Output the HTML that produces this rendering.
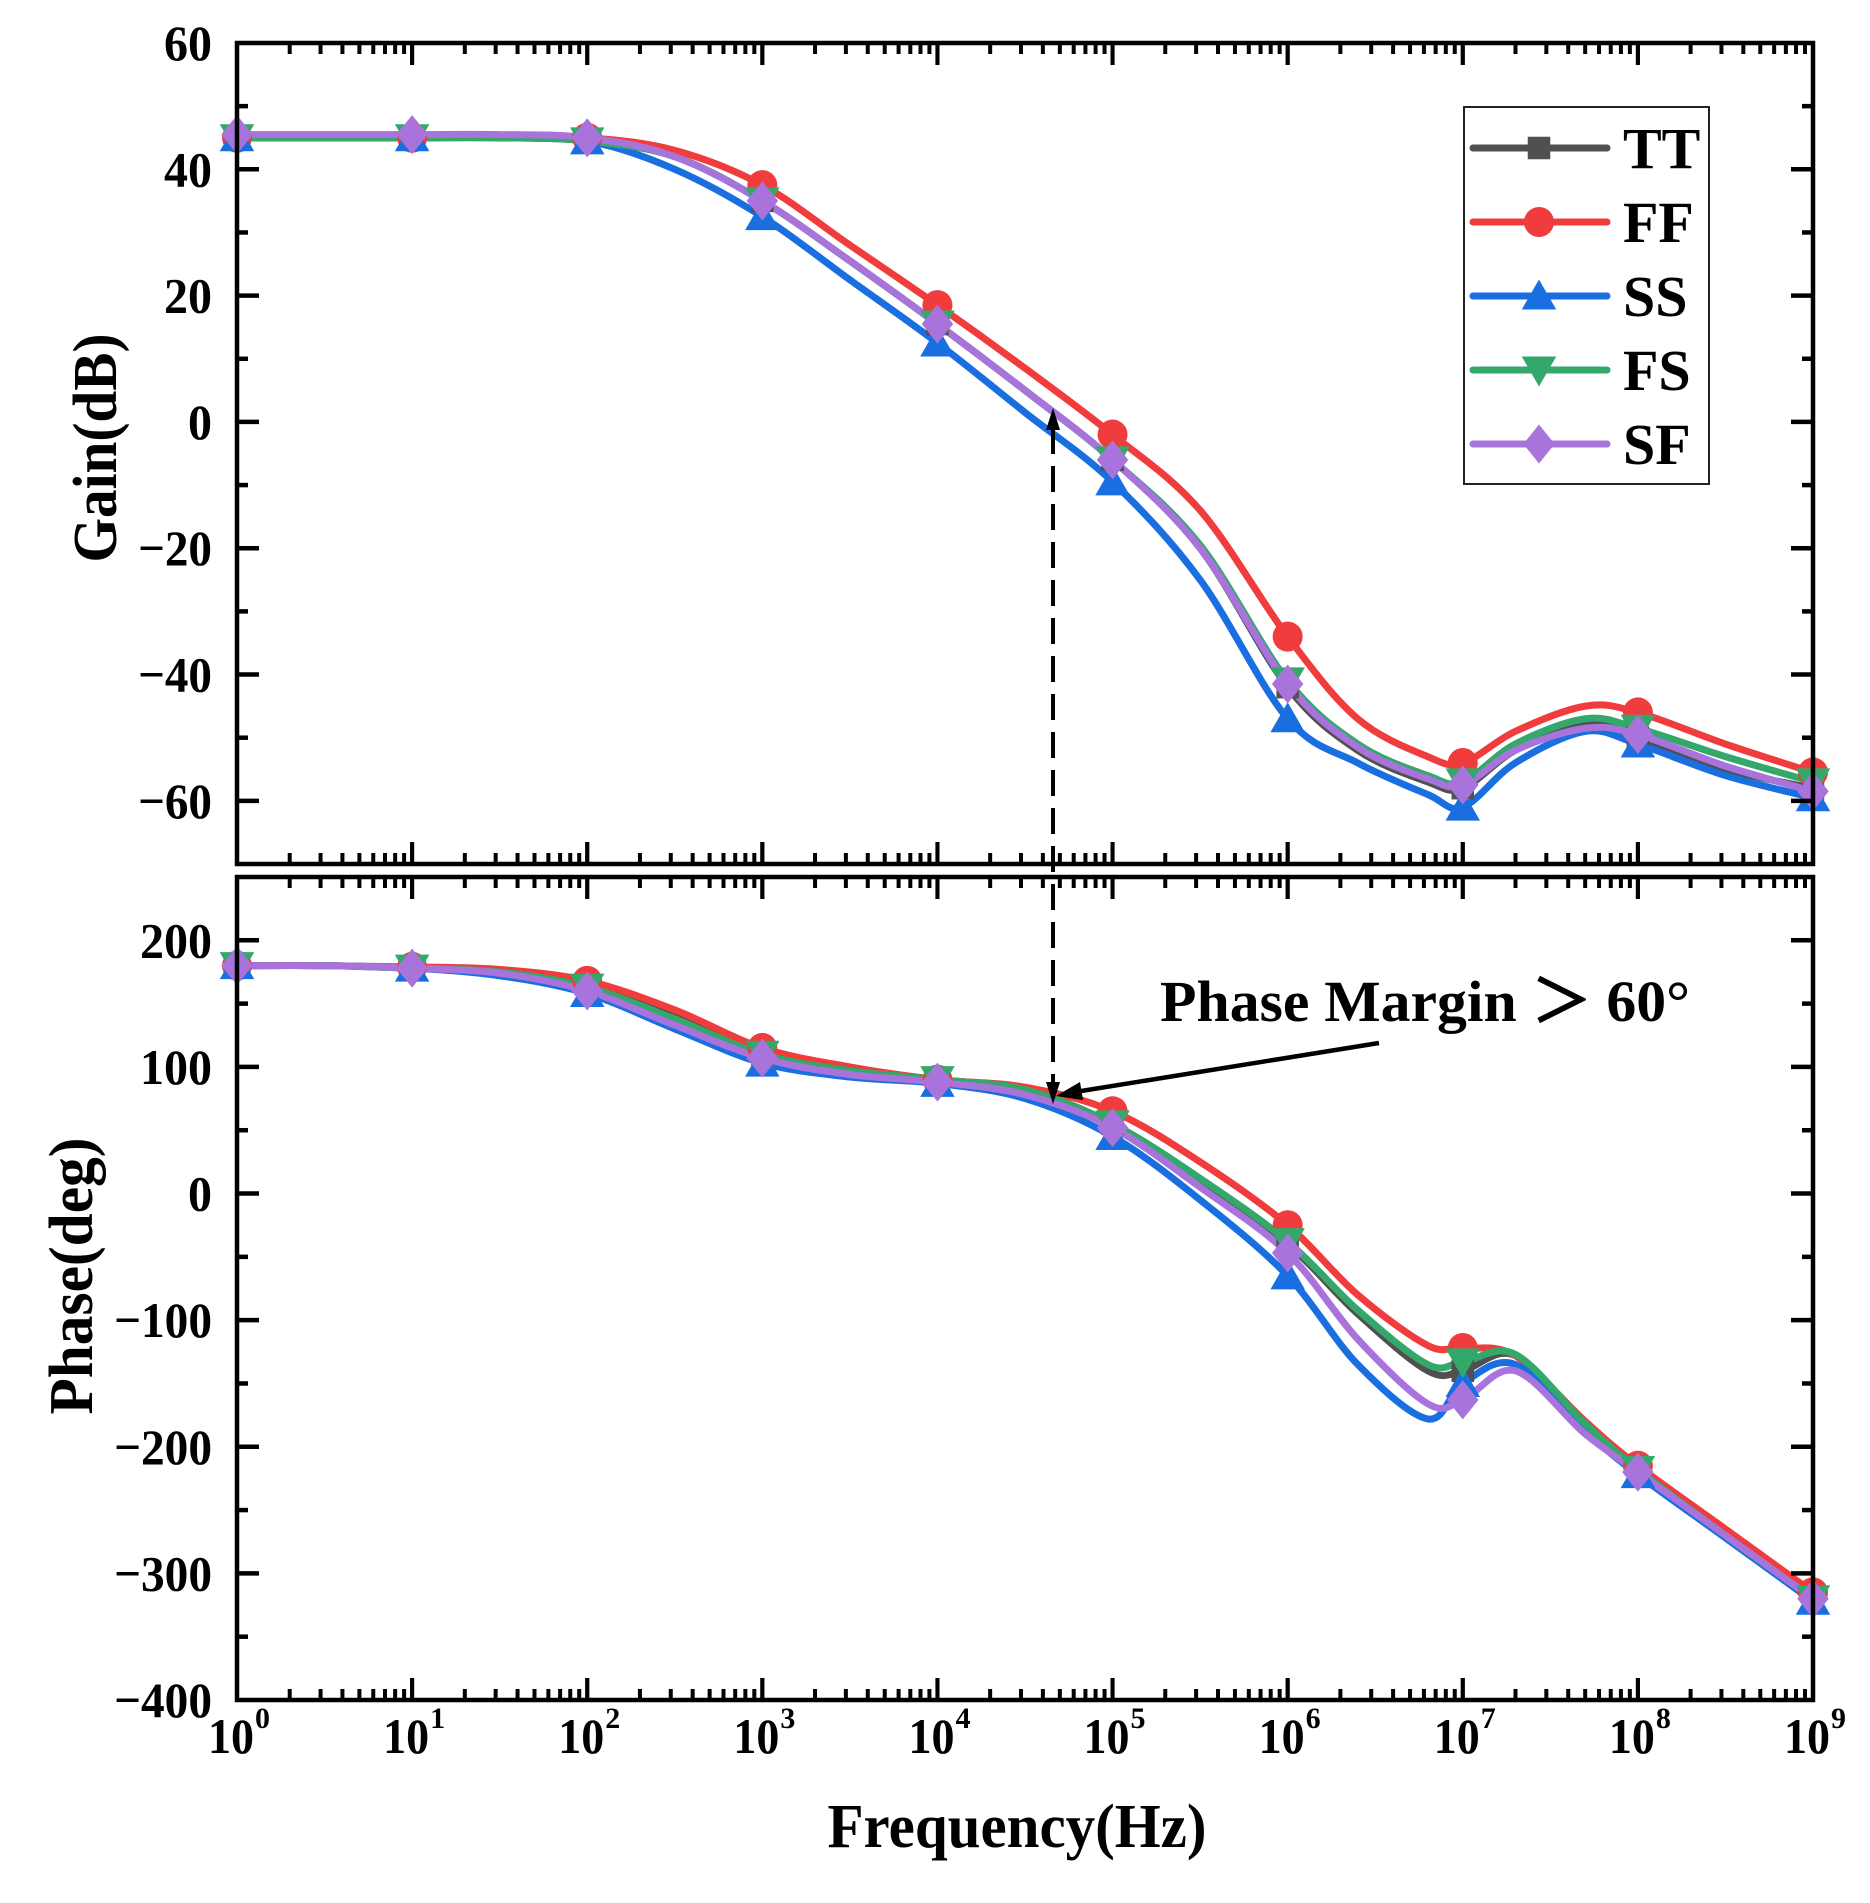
<!DOCTYPE html>
<html>
<head>
<meta charset="utf-8">
<style>
  html,body{margin:0;padding:0;background:#fff;}
  svg{display:block;}
  text{font-family:"Liberation Serif",serif;font-weight:bold;fill:#000;}
</style>
</head>
<body>
<svg id="chart" width="1870" height="1903" viewBox="0 0 1870 1903" xmlns="http://www.w3.org/2000/svg">
  <g id="gainPanel"></g>
  <g id="phasePanel"></g>
  <g id="annot"></g>
  <g id="legend"></g>
</svg>
<script>
// ---- data ----
const exps = [0,0.5,1,1.5,2,2.5,3,3.5,4,4.5,5,5.5,6,6.4,6.8,7,7.3,7.7,8,8.5,9];
const seriesNames = ["TT","FF","SS","FS","SF"];
const gainTT = [45,45,45,45,44.5,42,35,25.5,15.5,5,-6,-20,-42,-52,-57,-58,-52,-47.5,-50,-55,-58];
const gainFF = [45,45,45,45,45,43,37.5,28,18.5,8.5,-2,-14,-34,-47,-53,-54,-49,-45,-46,-51,-55.5];
const gainSS = [45,45,45,45,44.5,40,32.5,22.5,12.5,1.5,-9.5,-25,-47,-54,-59,-61,-54,-49,-51,-56,-59.5];
const gainFS = [45,45,45,45,44.5,42,35,25.5,15.5,5,-6,-19.5,-41,-51,-56,-57,-51,-47,-48.5,-53,-57];
const gainSF = [45.5,45.5,45.5,45.5,45,42,35,25.5,15.5,5,-6,-20,-41.5,-51.5,-56.5,-57.5,-52,-48.5,-49.5,-54.5,-58.5];
const phaseTT = [180,180,178,176,165,140,110,97,90,82,55,10,-40,-95,-140,-140,-128,-185,-218,-270,-320];
const phaseFF = [180,180,179,177,168,145,115,100,90,84,65,25,-25,-80,-120,-122,-128,-180,-215,-265,-315];
const phaseSS = [180,180,178,172,158,130,103,92,87,75,45,-5,-65,-135,-178,-150,-135,-188,-222,-272,-322];
const phaseFS = [180,180,178,175,163,138,110,97,90,82,55,12,-38,-92,-135,-133,-127,-182,-218,-270,-320];
const phaseSF = [180,180,178,174,160,133,107,94,88,78,52,5,-47,-115,-166,-163,-140,-190,-220,-270,-320];
const gainTicks = [60,40,20,0,-20,-40,-60];
const phaseTicks = [200,100,0,-100,-200,-300,-400];
const xDecades = [0,1,2,3,4,5,6,7,8,9];
const marginExp = [4.66];

const gainData = [gainTT,gainFF,gainSS,gainFS,gainSF];
const phaseData = [phaseTT,phaseFF,phaseSS,phaseFS,phaseSF];
const colors = ["#505050","#f03c3c","#1a6fe0","#33a86a","#a874dc"];
const markers = ["square","circle","up","down","diamond"];

const NS = "http://www.w3.org/2000/svg";
const L = 237, R = 1813;
const xS = e => L + (R - L) * e / 9;
const gP = {top:43,bot:864,min:-70,max:60};
const pP = {top:877,bot:1700,min:-400,max:250};
const yS = (p,v) => p.bot - (v - p.min) * (p.bot - p.top) / (p.max - p.min);

function el(tag, attrs, parent){
  const e = document.createElementNS(NS, tag);
  for (const k in attrs) e.setAttribute(k, attrs[k]);
  parent.appendChild(e);
  return e;
}
function pathFrom(pts){
  let d = "M" + pts[0][0] + "," + pts[0][1];
  for (let i=0;i<pts.length-1;i++){
    const p0 = pts[i-1]||pts[i], p1=pts[i], p2=pts[i+1], p3=pts[i+2]||pts[i+1];
    const t=6;
    const c1=[p1[0]+(p2[0]-p0[0])/t, p1[1]+(p2[1]-p0[1])/t];
    const c2=[p2[0]-(p3[0]-p1[0])/t, p2[1]-(p3[1]-p1[1])/t];
    d += " C"+c1[0]+","+c1[1]+" "+c2[0]+","+c2[1]+" "+p2[0]+","+p2[1];
  }
  return d;
}
function marker(g, type, x, y, color, s){
  let m;
  if (type==="square") m = el("rect",{x:x-s*0.75,y:y-s*0.75,width:s*1.5,height:s*1.5,fill:color},g);
  else if (type==="circle") m = el("circle",{cx:x,cy:y,r:s,fill:color},g);
  else if (type==="up") m = el("polygon",{points:`${x},${y-s*1.1} ${x-s*1.15},${y+s*0.9} ${x+s*1.15},${y+s*0.9}`,fill:color},g);
  else if (type==="down") m = el("polygon",{points:`${x},${y+s*1.1} ${x-s*1.15},${y-s*0.9} ${x+s*1.15},${y-s*0.9}`,fill:color},g);
  else m = el("polygon",{points:`${x},${y-s*1.3} ${x+s*1.05},${y} ${x},${y+s*1.3} ${x-s*1.05},${y}`,fill:color},g);
  return m;
}

function drawPanel(g, p, data, ticks, minorStep, name){
  data.forEach((arr, si) => {
    const pts = exps.map((e,i)=>[xS(e), yS(p,arr[i])]);
    const path = el("path",{d:pathFrom(pts),fill:"none",stroke:colors[si],"stroke-width":7,"stroke-linejoin":"round"},g);
    
    
  });
  data.forEach((arr, si) => {
    exps.forEach((e,i)=>{
      if (Number.isInteger(e)){
        const m = marker(g, markers[si], xS(e), yS(p,arr[i]), colors[si], 15);
        
        
      }
    });
  });
  const fr = el("rect",{x:L,y:p.top,width:R-L,height:p.bot-p.top,fill:"none",stroke:"#000","stroke-width":4.5},g);
  
  
  for (let v = p.min; v <= p.max; v += minorStep){
    const y = yS(p,v);
    if (y < p.top+2 || y > p.bot-2) continue;
    const major = ticks.includes(v);
    const len = major ? 22 : 11;
    el("line",{x1:L,x2:L+len,y1:y,y2:y,stroke:"#000","stroke-width":4.5},g);
    el("line",{x1:R,x2:R-len,y1:y,y2:y,stroke:"#000","stroke-width":4.5},g);
  }
  ticks.forEach(v=>{
    const s = v<0 ? "\u2212"+Math.abs(v) : String(v);
    const w = String(Math.abs(v)).length*24 + (v<0?26:0);
    const t = el("text",{x:212,y:yS(p,v)+17,"text-anchor":"end","font-size":50,textLength:w,lengthAdjust:"spacingAndGlyphs"},g);
    t.textContent = s;
    
    
  });
  for (let d=0; d<9; d++){
    for (let k=1;k<=10;k++){
      const x = xS(d + Math.log10(k));
      const major = (k===1||k===10);
      if (x<=L+1 || x>=R-1) continue;
      const len = major ? 22 : 11;
      el("line",{x1:x,x2:x,y1:p.bot,y2:p.bot-len,stroke:"#000","stroke-width":4},g);
      el("line",{x1:x,x2:x,y1:p.top,y2:p.top+len,stroke:"#000","stroke-width":4},g);
    }
  }
}

const gG = document.getElementById("gainPanel");
const pG = document.getElementById("phasePanel");
drawPanel(gG, gP, gainData, gainTicks, 10, "gain");
drawPanel(pG, pP, phaseData, phaseTicks, 50, "phase");

xDecades.forEach(d=>{
  const t = el("text",{x:xS(d)-6,y:1753,"text-anchor":"middle","font-size":50,textLength:46,lengthAdjust:"spacingAndGlyphs"},pG);
  t.textContent = "10";
  
  
  const s = el("text",{x:xS(d)+18,y:1728,"text-anchor":"start","font-size":30},pG);
  s.textContent = String(d);
  
  
});

const svg = document.getElementById("chart");
let t = el("text",{x:0,y:0,"text-anchor":"middle","font-size":62,textLength:229,lengthAdjust:"spacingAndGlyphs",transform:"translate(116,448) rotate(-90)"},svg);
t.textContent = "Gain(dB)";


t = el("text",{x:0,y:0,"text-anchor":"middle","font-size":62,textLength:277,lengthAdjust:"spacingAndGlyphs",transform:"translate(92,1276) rotate(-90)"},svg);
t.textContent = "Phase(deg)";


t = el("text",{x:1017,y:1847,"text-anchor":"middle","font-size":62,textLength:379,lengthAdjust:"spacingAndGlyphs"},svg);
t.textContent = "Frequency(Hz)";



const A = document.getElementById("annot");
const mx = xS(marginExp[0]);
const dl = el("line",{x1:mx,x2:mx,y1:428,y2:1090,stroke:"#000","stroke-width":4,"stroke-dasharray":"26 12"},A);


const ah1 = el("polygon",{points:`${mx},408 ${mx-7},430 ${mx+7},430`,fill:"#000"},A);


const ah2 = el("polygon",{points:`${mx},1104 ${mx-7},1082 ${mx+7},1082`,fill:"#000"},A);


const al = el("line",{x1:1379,y1:1043,x2:1075,y2:1092,stroke:"#000","stroke-width":4.5},A);


const ah3 = el("polygon",{points:`1056,1096 1080,1082 1083,1100`,fill:"#000"},A);


t = el("text",{x:1160,y:1021,"font-size":58,textLength:530,lengthAdjust:"spacingAndGlyphs"},A);
t.textContent = "Phase Margin \uFF1E 60\u00B0";



const LG = document.getElementById("legend");
const box = el("rect",{x:1464,y:107,width:245,height:377,fill:"#fff",stroke:"#222","stroke-width":2},LG);


seriesNames.forEach((n,i)=>{
  const y = 148 + i*74;
  const g = el("g",{},LG);
  
  
  el("line",{x1:1473,x2:1607,y1:y,y2:y,stroke:colors[i],"stroke-width":7,"stroke-linecap":"round"},g);
  marker(g, markers[i], 1539, y, colors[i], 15);
  const tx = el("text",{x:1623,y:y+20,"font-size":58},g);
  tx.textContent = n;
});
</script>
</body>
</html>
